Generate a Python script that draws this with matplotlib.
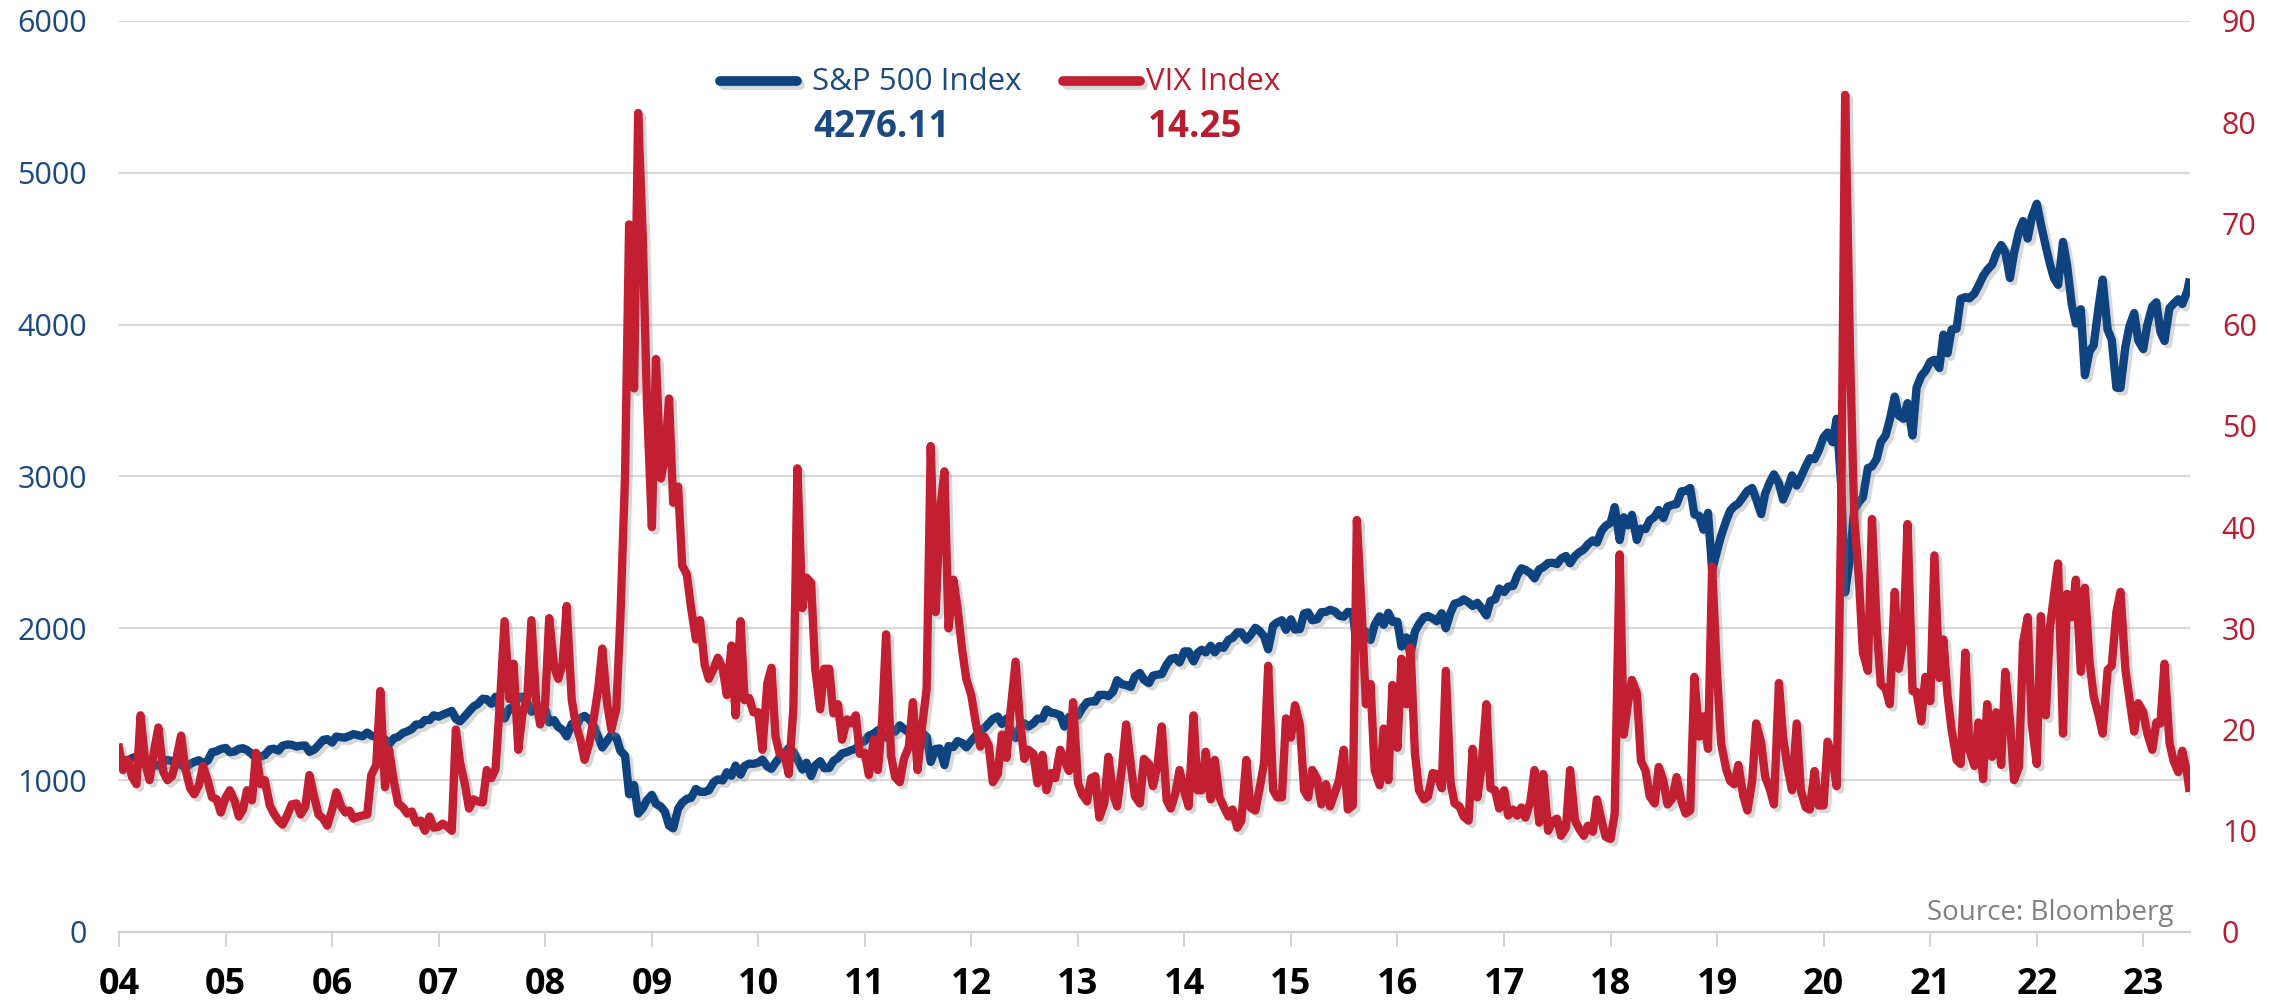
import matplotlib
matplotlib.use("Agg")
import matplotlib.pyplot as plt
import matplotlib.patheffects as pe
import matplotlib.lines as mlines
import pandas as pd

plt.rcParams['font.family'] = ['Open Sans', 'DejaVu Sans']

BLUE = '#0f437f'
RED = '#c21f32'
BLUE_TXT = '#1c4a80'
RED_TXT = '#b81d2f'

# semi-monthly readings (1st and 15th of each month), last point = latest close
sp500 = [
    1112, 1133, 1131, 1145, 1155, 1105, 1132, 1129, 1107, 1095, 1122, 1133, 1126, 1106, 1102, 1080, 1106, 1120, 1131, 1108, 1130, 1184, 1191, 1205,  # 04
    1212, 1184, 1189, 1206, 1210, 1198, 1172, 1142, 1156, 1165, 1202, 1207, 1194, 1227, 1235, 1233, 1221, 1227, 1228, 1186, 1202, 1230, 1265, 1270,  # 05
    1248, 1287, 1282, 1280, 1291, 1303, 1295, 1289, 1313, 1294, 1285, 1256, 1270, 1236, 1277, 1285, 1311, 1321, 1336, 1366, 1368, 1396, 1396, 1427,  # 06
    1418, 1431, 1445, 1456, 1403, 1387, 1421, 1452, 1486, 1501, 1536, 1533, 1503, 1549, 1465, 1406, 1473, 1484, 1547, 1549, 1509, 1451, 1481, 1468,  # 07
    1468, 1380, 1395, 1349, 1331, 1288, 1370, 1351, 1409, 1423, 1400, 1360, 1284, 1215, 1260, 1298, 1283, 1193, 1161, 907, 968, 780, 816, 868,  # 08
    903, 843, 826, 790, 700, 683, 811, 852, 877, 882, 942, 923, 923, 932, 987, 1005, 998, 1052, 1029, 1096, 1036, 1093, 1109, 1107,  # 09
    1115, 1136, 1089, 1075, 1115, 1150, 1178, 1211, 1187, 1136, 1070, 1115, 1027, 1096, 1125, 1079, 1080, 1125, 1146, 1176, 1185, 1197, 1206, 1242,  # 10
    1258, 1293, 1307, 1329, 1306, 1281, 1332, 1319, 1361, 1338, 1315, 1265, 1339, 1316, 1286, 1120, 1205, 1209, 1099, 1224, 1218, 1257, 1244, 1216,  # 11
    1258, 1289, 1324, 1343, 1374, 1403, 1419, 1370, 1405, 1330, 1278, 1343, 1374, 1353, 1375, 1405, 1406, 1465, 1444, 1440, 1427, 1353, 1416, 1413,  # 12
    1426, 1472, 1513, 1519, 1518, 1561, 1562, 1553, 1582, 1658, 1631, 1626, 1614, 1682, 1706, 1661, 1639, 1688, 1695, 1698, 1761, 1798, 1806, 1775,  # 13
    1848, 1848, 1782, 1838, 1859, 1841, 1885, 1842, 1883, 1871, 1924, 1937, 1973, 1973, 1925, 1955, 2003, 1984, 1946, 1862, 2018, 2039, 2053, 1990,  # 14
    2059, 1992, 1995, 2097, 2105, 2053, 2060, 2106, 2108, 2122, 2111, 2084, 2077, 2108, 2104, 1868, 1914, 1978, 1923, 2023, 2079, 2023, 2102, 2043,  # 15
    2044, 1880, 1940, 1829, 1978, 2028, 2073, 2081, 2065, 2047, 2099, 2000, 2102, 2162, 2171, 2191, 2171, 2147, 2168, 2133, 2085, 2180, 2191, 2262,  # 16
    2239, 2275, 2279, 2349, 2395, 2385, 2363, 2329, 2388, 2402, 2430, 2432, 2423, 2459, 2476, 2428, 2476, 2500, 2519, 2553, 2579, 2564, 2642, 2675,  # 17
    2695, 2798, 2581, 2731, 2678, 2747, 2582, 2656, 2654, 2711, 2734, 2779, 2726, 2801, 2813, 2818, 2902, 2905, 2924, 2750, 2740, 2650, 2760, 2380,  # 18
    2510, 2610, 2707, 2775, 2804, 2822, 2868, 2905, 2924, 2851, 2752, 2887, 2964, 3014, 2954, 2848, 2926, 3007, 2940, 2995, 3067, 3120, 3114, 3169,  # 19
    3258, 3289, 3226, 3380, 2954, 2237, 2470, 2783, 2830, 2863, 3055, 3066, 3115, 3226, 3271, 3372, 3526, 3401, 3380, 3483, 3270, 3585, 3662, 3694,  # 20
    3756, 3768, 3714, 3934, 3811, 3968, 3973, 4170, 4181, 4173, 4204, 4255, 4320, 4360, 4395, 4468, 4524, 4480, 4307, 4471, 4613, 4682, 4567, 4709,  # 21
    4796, 4663, 4515, 4401, 4306, 4262, 4545, 4392, 4132, 4008, 4101, 3667, 3825, 3863, 4118, 4297, 3966, 3901, 3585, 3583, 3856, 3991, 4076, 3895,  # 22
    3839, 3999, 4119, 4147, 3951, 3892, 4109, 4138, 4167, 4136, 4221, 4276.11,  # 23
]

vix = [
    18.2, 16.0, 17.0, 15.3, 14.6, 21.4, 16.6, 15.0, 18.0, 20.2, 15.8, 15.0, 15.4, 17.0, 19.4, 16.2, 14.2, 13.6, 14.5, 16.4, 14.9, 13.3, 13.1, 11.8,  # 04
    13.3, 14.0, 12.9, 11.4, 12.1, 14.0, 13.0, 17.7, 14.6, 15.0, 12.5, 11.7, 11.0, 10.6, 11.6, 12.6, 12.7, 11.6, 12.4, 15.5, 13.3, 11.6, 11.2, 10.5,  # 05
    12.1, 13.8, 12.4, 11.8, 12.0, 11.2, 11.4, 11.5, 11.6, 15.5, 16.5, 23.8, 14.3, 18.0, 14.8, 12.7, 12.3, 11.7, 11.9, 10.8, 11.0, 10.0, 11.4, 10.3,  # 06
    10.4, 10.7, 10.4, 10.0, 20.0, 16.8, 14.6, 12.2, 13.1, 12.9, 12.8, 16.0, 15.2, 16.1, 23.5, 30.7, 23.0, 26.5, 18.0, 21.5, 23.2, 30.8, 22.9, 20.5,  # 07
    22.5, 31.0, 26.2, 25.0, 26.5, 32.2, 23.0, 20.5, 19.0, 17.0, 18.7, 21.0, 24.0, 28.0, 22.5, 20.0, 22.0, 31.0, 45.0, 69.9, 53.7, 80.9, 68.5, 52.4,  # 08
    40.0, 56.6, 44.8, 47.0, 52.7, 42.4, 44.0, 36.2, 35.3, 32.1, 28.9, 30.8, 26.4, 25.0, 26.0, 27.1, 26.0, 23.4, 28.3, 21.4, 30.7, 22.9, 23.1, 21.7,  # 09
    21.7, 18.0, 24.6, 26.1, 19.3, 17.6, 17.5, 15.6, 22.0, 45.8, 32.0, 35.0, 34.5, 26.0, 22.0, 26.0, 26.0, 21.6, 22.5, 19.0, 21.0, 20.6, 21.4, 17.6,  # 10
    17.7, 15.5, 19.0, 16.0, 20.7, 29.4, 17.4, 15.3, 14.8, 17.1, 18.3, 22.7, 16.0, 20.0, 24.0, 48.0, 31.6, 41.3, 45.5, 30.0, 34.8, 32.0, 27.8, 25.0,  # 11
    23.4, 20.9, 18.3, 19.3, 18.4, 14.8, 15.6, 19.5, 17.2, 21.9, 26.7, 21.1, 17.1, 18.0, 17.6, 14.7, 17.5, 14.0, 15.7, 15.2, 18.0, 17.0, 15.9, 22.7,  # 12
    14.7, 13.6, 12.9, 15.2, 15.4, 11.3, 12.7, 17.3, 13.7, 12.4, 16.3, 20.5, 16.5, 13.4, 12.7, 17.1, 16.6, 14.4, 16.6, 20.3, 13.0, 12.2, 13.7, 16.0,  # 13
    13.8, 12.4, 21.4, 14.0, 14.0, 17.8, 13.1, 17.0, 13.3, 12.4, 11.4, 12.1, 10.3, 11.0, 17.0, 12.3, 12.0, 14.1, 16.7, 26.3, 14.0, 13.3, 13.3, 21.1,  # 14
    19.2, 22.4, 20.4, 14.0, 13.3, 16.0, 15.1, 12.6, 14.6, 12.4, 13.8, 15.0, 18.0, 12.1, 12.5, 40.7, 31.4, 22.5, 24.5, 16.0, 14.5, 20.1, 15.0, 24.4,  # 15
    18.2, 27.0, 22.5, 28.1, 17.7, 14.0, 13.1, 13.4, 15.7, 15.6, 14.2, 25.8, 14.8, 12.7, 12.4, 11.4, 11.0, 18.1, 13.3, 16.2, 22.5, 14.2, 14.0, 12.2,  # 16
    14.0, 11.5, 12.1, 11.5, 12.3, 11.3, 12.9, 16.0, 10.8, 15.6, 10.0, 10.9, 11.2, 9.5, 10.3, 16.0, 11.0, 10.2, 9.5, 10.5, 9.9, 13.1, 11.0, 9.4,  # 17
    9.2, 11.7, 37.3, 19.5, 22.5, 24.9, 23.6, 16.9, 15.9, 13.4, 12.7, 16.3, 14.9, 12.6, 13.2, 15.3, 12.9, 11.7, 12.0, 25.2, 19.3, 21.3, 18.1, 36.1,  # 18
    25.4, 18.6, 16.1, 14.9, 14.6, 16.5, 13.4, 12.0, 14.8, 20.6, 18.7, 15.3, 14.1, 12.6, 24.6, 19.3, 16.0, 14.0, 20.6, 14.0, 12.3, 12.1, 15.9, 12.5,  # 19
    12.5, 18.8, 17.1, 14.4, 40.1, 82.7, 57.1, 41.0, 35.0, 27.6, 25.8, 40.8, 30.4, 24.5, 24.0, 22.5, 33.6, 26.0, 29.0, 40.3, 23.8, 23.7, 20.8, 25.2,  # 20
    22.8, 37.2, 25.1, 28.9, 23.4, 20.0, 17.0, 16.6, 27.6, 18.0, 16.4, 20.7, 15.1, 22.5, 17.3, 21.7, 16.5, 25.7, 21.0, 15.0, 16.3, 28.6, 31.1, 20.5,  # 21
    16.6, 31.2, 21.4, 30.0, 33.3, 36.4, 19.6, 33.4, 31.1, 34.8, 25.7, 34.0, 26.7, 23.3, 21.4, 19.6, 25.9, 26.3, 31.6, 33.6, 25.9, 23.0, 19.8, 22.6,  # 22
    21.7, 19.6, 18.0, 20.7, 20.6, 26.5, 18.7, 16.9, 15.8, 17.9, 15.6, 14.25,  # 23
]

dates = list(pd.date_range('2004-01-01', '2023-06-01', freq='SMS')) + [pd.Timestamp('2023-06-07')]

years = list(range(2004, 2024))
year_labels = ['%02d' % (y % 100) for y in years]
sp_ticks = [0, 1000, 2000, 3000, 4000, 5000, 6000]
vix_ticks = [0, 10, 20, 30, 40, 50, 60, 70, 80, 90]

fig = plt.figure(figsize=(22.79, 10.02), dpi=100)
ax = fig.add_axes([0.0522, 0.0699, 0.9087, 0.9092])
ax2 = ax.twinx()

shadow = [pe.SimpleLineShadow(offset=(2.5, -2.5), shadow_color='#808080', alpha=0.3),
          pe.Normal()]

ax.plot(dates, sp500, color=BLUE, lw=6, solid_joinstyle='round', path_effects=shadow)
ax2.plot(dates, vix, color=RED, lw=6, solid_joinstyle='round', path_effects=shadow)

ax.set_xlim(pd.Timestamp('2004-01-01'), pd.Timestamp('2023-06-10'))
ax.set_ylim(0, 6000)
ax2.set_ylim(0, 90)
ax.set_yticks(sp_ticks)
ax2.set_yticks(vix_ticks)

ax.set_xticks([pd.Timestamp('%d-01-01' % y) for y in years])
ax.set_xticklabels(year_labels, fontweight='bold')
ax.tick_params(axis='x', length=11, width=1.3, color='#d0d0d0', labelsize=26,
               labelcolor='black', pad=14)
ax.tick_params(axis='y', length=0, labelsize=22, labelcolor=BLUE_TXT, pad=23)
ax2.tick_params(axis='y', length=0, labelsize=22, labelcolor=RED_TXT, pad=23)

ax.grid(axis='y', color='#d9d9d9', lw=1.6)
ax.set_axisbelow(True)
for s in ['top', 'left', 'right']:
    ax.spines[s].set_visible(False)
ax.spines['bottom'].set_color('#d0d0d0')
ax.spines['bottom'].set_linewidth(1.6)
for s in ax2.spines.values():
    s.set_visible(False)

# legend drawn by hand
fig.add_artist(mlines.Line2D([0.3160, 0.3495], [0.919, 0.919], transform=fig.transFigure,
                             color=BLUE, lw=7, solid_capstyle='round', path_effects=shadow))
fig.add_artist(mlines.Line2D([0.4665, 0.5000], [0.919, 0.919], transform=fig.transFigure,
                             color=RED, lw=7, solid_capstyle='round', path_effects=shadow))
fig.text(0.3563, 0.910, 'S&P 500 Index', color=BLUE_TXT, fontsize=22.5, va='baseline')
fig.text(0.3567, 0.863, '4276.11', color=BLUE_TXT, fontsize=26.5, fontweight='bold', va='baseline')
fig.text(0.5029, 0.910, 'VIX Index', color=RED_TXT, fontsize=22.5, va='baseline')
fig.text(0.5037, 0.863, '14.25', color=RED_TXT, fontsize=26.5, fontweight='bold', va='baseline')

fig.text(0.9535, 0.0818, 'Source: Bloomberg', color='#808080', fontsize=20,
         ha='right', va='baseline')

fig.savefig('out.png', dpi=100)
